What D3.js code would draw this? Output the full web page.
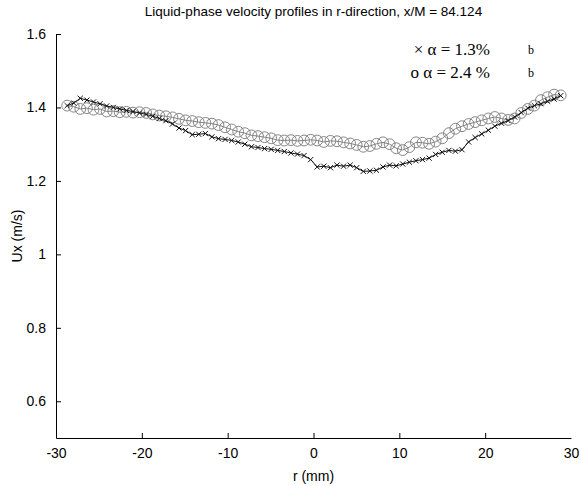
<!DOCTYPE html>
<html><head><meta charset="utf-8">
<script src="https://cdn.jsdelivr.net/npm/d3@7/dist/d3.min.js"></script>
<style>body{margin:0;background:#fff}svg{display:block}</style>
</head><body>
<svg id="c" width="580" height="486"></svg>
<script>
const rPos = [-28.70,-27.93,-27.17,-26.40,-25.63,-24.87,-24.10,-23.33,-22.57,-21.80,-21.03,-20.27,-19.50,-18.73,-17.97,-17.20,-16.43,-15.67,-14.90,-14.13,-13.37,-12.60,-11.83,-11.07,-10.30,-9.53,-8.77,-8.00,-7.23,-6.47,-5.70,-4.93,-4.17,-3.40,-2.63,-1.87,-1.10,-0.33,0.43,1.20,1.97,2.73,3.50,4.27,5.03,5.80,6.57,7.33,8.10,8.87,9.63,10.40,11.17,11.93,12.70,13.47,14.23,15.00,15.77,16.53,17.30,18.07,18.83,19.60,20.37,21.13,21.90,22.67,23.43,24.20,24.97,25.73,26.50,27.27,28.03,28.80];
const uAlpha13 = [1.405,1.412,1.425,1.420,1.415,1.410,1.404,1.400,1.396,1.392,1.389,1.385,1.381,1.376,1.370,1.364,1.355,1.344,1.337,1.326,1.327,1.329,1.320,1.315,1.313,1.310,1.306,1.300,1.293,1.291,1.288,1.286,1.283,1.280,1.276,1.273,1.269,1.258,1.238,1.240,1.236,1.243,1.240,1.243,1.236,1.226,1.227,1.229,1.238,1.243,1.241,1.246,1.251,1.255,1.258,1.262,1.272,1.278,1.283,1.281,1.285,1.306,1.318,1.328,1.338,1.349,1.357,1.364,1.374,1.386,1.398,1.405,1.410,1.417,1.423,1.432];
const uAlpha24 = [1.405,1.402,1.396,1.398,1.394,1.396,1.389,1.390,1.387,1.388,1.386,1.387,1.385,1.381,1.378,1.376,1.373,1.369,1.365,1.363,1.360,1.358,1.356,1.352,1.346,1.340,1.334,1.330,1.324,1.322,1.319,1.316,1.311,1.310,1.311,1.309,1.310,1.312,1.310,1.306,1.309,1.308,1.305,1.302,1.298,1.293,1.295,1.301,1.305,1.300,1.289,1.284,1.292,1.305,1.304,1.301,1.307,1.316,1.330,1.342,1.349,1.355,1.360,1.365,1.370,1.374,1.370,1.366,1.370,1.385,1.396,1.405,1.420,1.428,1.435,1.433];
const xTicks = [-30,-20,-10,0,10,20,30];
const yTicks = [0.6,0.8,1,1.2,1.4,1.6];
const titleText = "Liquid-phase velocity profiles in r-direction, x/M = 84.124";
const xLabel = "r (mm)";
const yLabel = "Ux (m/s)";
const legendItems = ["\u00d7 \u03b1 =  1.3%", "o \u03b1 = 2.4 %"];

const svg = d3.select("#c");
const L = 56, R = 571, T = 34, B = 438;
const x = d3.scaleLinear().domain([-30,30]).range([L,R]);
const y = d3.scaleLinear().domain([0.5,1.6]).range([B,T]);
const font = "Liberation Sans, Arial, Helvetica, sans-serif";

// axes
const xAxis = d3.axisBottom(x).tickValues(xTicks).tickSizeInner(-5).tickSizeOuter(0).tickPadding(10).tickFormat(d => String(d));
const yAxis = d3.axisLeft(y).tickValues(yTicks).tickSizeInner(-5).tickSizeOuter(0).tickPadding(10).tickFormat(d => d===1 ? "1" : d3.format(".1f")(d));
const gx = svg.append("g").attr("transform",`translate(0,${B})`).call(xAxis);
const gy = svg.append("g").attr("transform",`translate(${L},0)`).call(yAxis);
[gx,gy].forEach(g=>{
  g.select(".domain").attr("stroke","#000").attr("stroke-width",1);
  g.selectAll(".tick line").attr("stroke","#000");
  g.selectAll(".tick text").attr("font-family",font).attr("font-size",14).attr("fill","#000");
});
gx.selectAll(".tick").filter(d=>d===30||d===-30).select("line").remove();

const pts13 = rPos.map((r,i)=>[r,uAlpha13[i]]);
const pts24 = rPos.map((r,i)=>[r,uAlpha24[i]]);
const line = d3.line().x(d=>x(d[0])).y(d=>y(d[1]));

// circle series
svg.append("path").attr("d",line(pts24)).attr("fill","none").attr("stroke","#808080").attr("stroke-width",1);
svg.append("g").selectAll("circle").data(pts24).join("circle")
  .attr("cx",d=>x(d[0])).attr("cy",d=>y(d[1])).attr("r",5.4)
  .attr("fill","none").attr("stroke","#858585").attr("stroke-width",1);

// cross series
svg.append("path").attr("d",line(pts13)).attr("fill","none").attr("stroke","#111").attr("stroke-width",1);
const cs = 2.6;
svg.append("g").selectAll("path").data(pts13).join("path")
  .attr("d",d=>{const cx=x(d[0]),cy=y(d[1]);return `M${cx-cs},${cy-cs}L${cx+cs},${cy+cs}M${cx-cs},${cy+cs}L${cx+cs},${cy-cs}`;})
  .attr("stroke","#111").attr("stroke-width",1).attr("fill","none");

// title & labels
svg.append("text").attr("x",(L+R)/2).attr("y",16).attr("text-anchor","middle")
  .attr("font-family",font).attr("font-size",13.5).text(titleText);
svg.append("text").attr("x",(L+R)/2).attr("y",481).attr("text-anchor","middle")
  .attr("font-family",font).attr("font-size",14).text(xLabel);
svg.append("text").attr("transform",`translate(22,${(T+B)/2}) rotate(-90)`).attr("text-anchor","middle")
  .attr("font-family",font).attr("font-size",14).text(yLabel);

// legend
const serif = "Liberation Serif, Times New Roman, serif";
svg.append("text").attr("x",490).attr("y",55).attr("text-anchor","end").attr("font-family",serif).attr("font-size",17).text(legendItems[0]);
svg.append("text").attr("x",490).attr("y",78).attr("text-anchor","end").attr("font-family",serif).attr("font-size",17).text(legendItems[1]);
svg.append("text").attr("x",528).attr("y",54).attr("font-family",serif).attr("font-size",12).text("b");
svg.append("text").attr("x",528).attr("y",77).attr("font-family",serif).attr("font-size",12).text("b");
</script>
</body></html>
